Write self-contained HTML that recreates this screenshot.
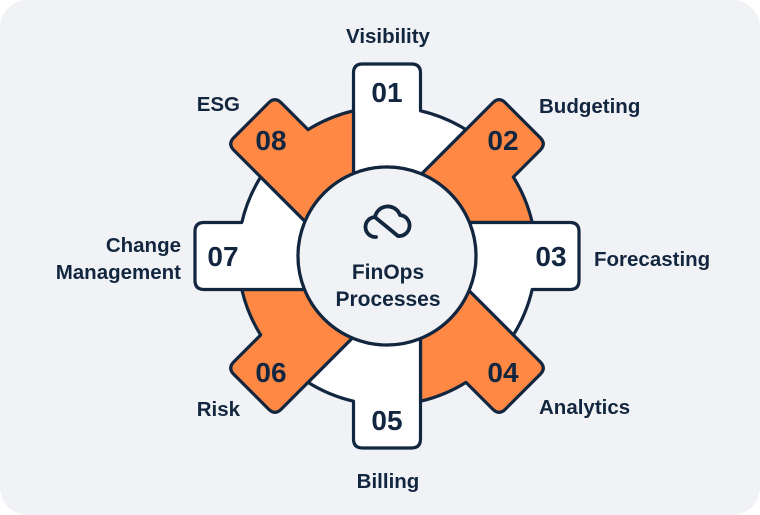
<!DOCTYPE html>
<html><head><meta charset="utf-8"><style>
html,body{margin:0;padding:0;background:#fff;}
svg{display:block;}
text{font-family:"Liberation Sans",sans-serif;font-weight:bold;fill:#12263f;}
</style></head><body>
<svg id="s" width="760" height="515" viewBox="0 0 760 515" xmlns="http://www.w3.org/2000/svg">
<rect x="0" y="0" width="760" height="515" rx="28" fill="#f0f2f5"/>
<g id="g"></g>
<circle cx="387" cy="256" r="89" fill="#f0f2f5" stroke="#12263f" stroke-width="3.2"/>
<path d="M376,237 A10,10 0 1 1 375,217 M375,217 A13,13 0 0 1 400,215 M400,215 A10,10 0 1 1 398,236 L376,218" fill="none" stroke="#12263f" stroke-width="3.8" stroke-linecap="round"/>
<text x="388" y="279" font-size="21" text-anchor="middle">FinOps</text>
<text x="388" y="306" font-size="21" text-anchor="middle">Processes</text>
<g font-size="20.5">
<text x="388" y="43" text-anchor="middle">Visibility</text>
<text x="539" y="113">Budgeting</text>
<text x="594" y="266">Forecasting</text>
<text x="539" y="414">Analytics</text>
<text x="388" y="488" text-anchor="middle">Billing</text>
<text x="240" y="416" text-anchor="end">Risk</text>
<text x="181" y="252" text-anchor="end">Change</text>
<text x="181" y="279" text-anchor="end">Management</text>
<text x="240" y="111" text-anchor="end">ESG</text>
</g>
</svg>
<script>
(function(){
var cx=387,cy=256,R1=89,R2=149,L=192,h=33.5,rc=9;
var g=document.getElementById('g');var ns='http://www.w3.org/2000/svg';
function P(i,d,o){var t=(-90+45*i)*Math.PI/180;var ux=Math.cos(t),uy=Math.sin(t),vx=-uy,vy=ux;
return (cx+d*ux+o*vx).toFixed(2)+','+(cy+d*uy+o*vy).toFixed(2);}
var d1=Math.sqrt(R1*R1-h*h),d2=Math.sqrt(R2*R2-h*h);
for(var i=0;i<8;i++){
var fill=(i%2)?'#ff8844':'#ffffff';
var p='M'+P(i,d1,-h)+' L'+P(i,L-rc,-h)+' Q'+P(i,L,-h)+' '+P(i,L,-h+rc)+' L'+P(i,L,h-rc)+' Q'+P(i,L,h)+' '+P(i,L-rc,h)+
' L'+P(i,d2,h)+' A'+R2+','+R2+' 0 0 1 '+P(i+1,d2,-h)+' L'+P(i+1,d1,-h)+' A'+R1+','+R1+' 0 0 0 '+P(i,d1,-h)+' Z';
var e=document.createElementNS(ns,'path');e.setAttribute('d',p);e.setAttribute('fill',fill);
e.setAttribute('stroke','#12263f');e.setAttribute('stroke-width','3.2');e.setAttribute('stroke-linejoin','round');
g.appendChild(e);
}
for(var i=0;i<8;i++){
var t=(-90+45*i)*Math.PI/180;var x=cx+164*Math.cos(t),y=cy+164*Math.sin(t);
var tx=document.createElementNS(ns,'text');tx.setAttribute('x',x.toFixed(1));tx.setAttribute('y',(y+10).toFixed(1));
tx.setAttribute('font-size','28');tx.setAttribute('text-anchor','middle');tx.textContent='0'+(i+1);g.appendChild(tx);
}
})();
</script>
</body></html>
